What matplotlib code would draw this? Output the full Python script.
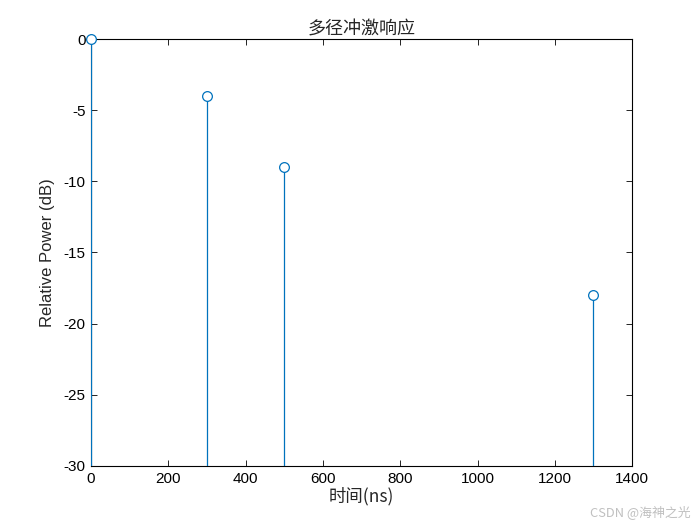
import numpy as np
import matplotlib.pyplot as plt

plt.rcParams['font.family'] = ['Liberation Sans', 'Noto Sans CJK SC', 'DejaVu Sans']
plt.rcParams['axes.unicode_minus'] = False

delays = [0, 300, 500, 1300]      # ns
powers = [0, -4, -9, -18]         # dB
xticks = [0, 200, 400, 600, 800, 1000, 1200, 1400]
yticks = [0, -5, -10, -15, -20, -25, -30]

color = '#0072BD'

fig = plt.figure(figsize=(7, 5.25), dpi=100)
ax = fig.add_axes([0.13, 0.1124, 0.773, 0.8133])

ax.vlines(delays, -30, powers, color=color, lw=0.9, zorder=3)
ax.plot(delays, powers, 'o', mfc='white', mec=color, ms=7, mew=0.9,
        clip_on=False, zorder=4)

ax.set_xlim(0, 1400)
ax.set_ylim(-30, 0)
ax.set_xticks(xticks)
ax.set_yticks(yticks)
ax.tick_params(direction='in', top=True, right=True, labelsize=11,
               length=4, width=0.6, pad=4)
for s in ax.spines.values():
    s.set_linewidth(0.8)

ax.set_title('多径冲激响应', fontsize=13, family=['Noto Sans CJK SC'], pad=3,
             color='#262626')
ax.set_xlabel('时间(ns)', fontsize=12.5, family=['Noto Sans CJK SC', 'Liberation Sans'],
              labelpad=1, color='#262626')
ax.set_ylabel('Relative Power (dB)', fontsize=12, labelpad=6, color='#262626')

fig.text(0.986, 0.012, 'CSDN @海神之光', fontsize=9.3, color='#c0c0c0',
         ha='right', va='bottom', family=['Noto Sans CJK SC'])

fig.savefig('out.png', dpi=100)
